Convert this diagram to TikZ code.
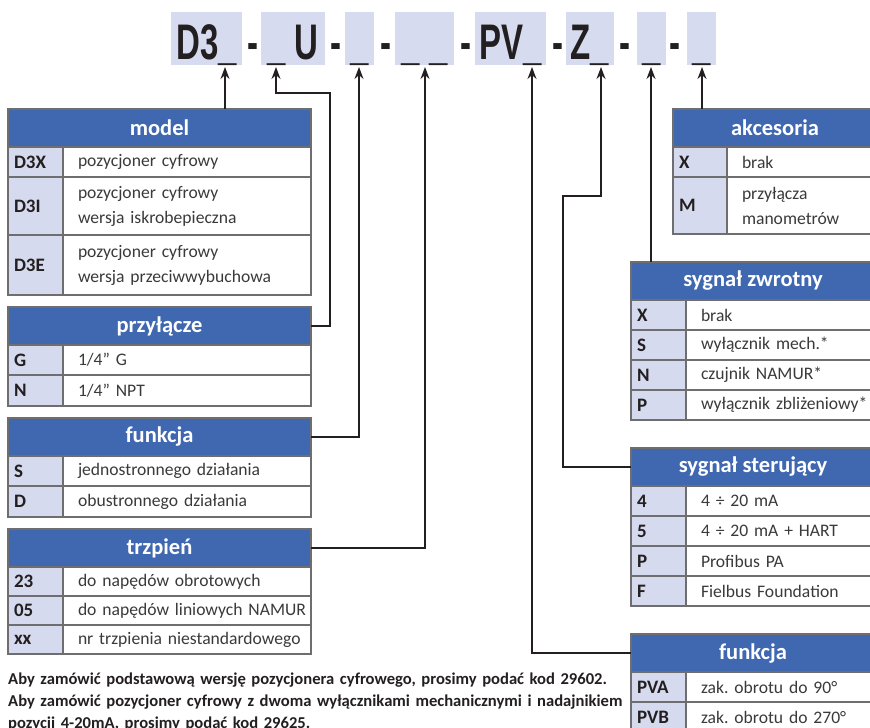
\documentclass[tikz,border=0pt]{standalone}
\usepackage{fontspec}
\setmainfont{Carlito}
\newfontfamily\codefont[FakeStretch=0.66]{Liberation Sans}
\usepackage{xcolor}
\usetikzlibrary{positioning,arrows.meta}

\definecolor{headblue}{RGB}{63,104,177}
\definecolor{keyfill}{RGB}{213,218,238}
\definecolor{codefill}{RGB}{214,219,239}
\definecolor{rulegray}{RGB}{110,110,112}
\definecolor{inkdark}{RGB}{35,31,32}
\definecolor{bodygray}{RGB}{58,58,58}

\frenchspacing
\hyphenpenalty=10000
\exhyphenpenalty=10000

\begin{document}
\begin{tikzpicture}[x=1pt, y=-1pt, >={Stealth[length=12pt, width=9pt]}]
    \tikzstyle{code} = [rectangle, fill=codefill, inner sep=0pt, minimum height=53pt, text height=41pt, text depth=0pt, text=inkdark, font=\codefont\bfseries\fontsize{50}{50}\selectfont]
    \tikzstyle{hyph} = [inner sep=0pt, text height=41pt, text depth=0pt, text=inkdark, font=\codefont\bfseries\fontsize{50}{50}\selectfont]
    \tikzstyle{head} = [rectangle, draw=rulegray, line width=1.2pt, fill=headblue, text=white, inner sep=0pt, outer sep=0pt, minimum height=38pt, anchor=north west, font=\bfseries\fontsize{22.5}{26}\selectfont]
    \tikzstyle{key} = [rectangle, draw=rulegray, line width=1.2pt, fill=keyfill, text=inkdark, inner xsep=6pt, inner ysep=0pt, outer sep=0pt, text width=43pt, align=left, font=\bfseries\fontsize{19}{25}\selectfont]
    \tikzstyle{val} = [rectangle, draw=rulegray, line width=1.2pt, fill=white, text=bodygray, inner xsep=15pt, inner ysep=0pt, outer sep=0pt, text width=218pt, align=left, font=\fontsize{17.6}{25}\selectfont]
    \tikzstyle{valr} = [val, text width=159pt]
    \tikzstyle{conn} = [draw=inkdark, line width=1.3pt]
    \tikzstyle{note} = [inner sep=0pt, anchor=north west, text=inkdark, text width=700pt, align=left, font=\bfseries\fontsize{16.6}{22}\selectfont]

    \useasboundingbox (0,0) rectangle (870,728);
    \clip (0,0) rectangle (870,728);

    % Order code
    \node [code, minimum width=71pt] (c1) at (206.5,38.5) {D3\_};
    \node [hyph] (h1) at (252.5,38.5) {-};
    \node [code, minimum width=64pt] (c2) at (293,38.5) {\_ U};
    \node [hyph] (h2) at (335.5,38.5) {-};
    \node [code, minimum width=29pt] (c3) at (359.5,38.5) {\_};
    \node [hyph] (h3) at (386,38.5) {-};
    \node [code, minimum width=59pt] (c4) at (424.5,38.5) {\_ \_};
    \node [hyph] (h4) at (465.5,38.5) {-};
    \node [code, minimum width=71pt] (c5) at (510.5,38.5) {PV\_};
    \node [hyph] (h5) at (558,38.5) {-};
    \node [code, minimum width=48pt] (c6) at (590,38.5) {Z\_};
    \node [hyph] (h6) at (625,38.5) {-};
    \node [code, minimum width=29pt] (c7) at (651.5,38.5) {\_};
    \node [hyph] (h7) at (675,38.5) {-};
    \node [code, minimum width=29pt] (c8) at (701.5,38.5) {\_};

    \coordinate (tip1) at (225,67);
    \coordinate (tip2) at (276,67);
    \coordinate (tip3) at (359,67);
    \coordinate (tip4) at (425,67);
    \coordinate (tip5) at (532,67);
    \coordinate (tip6) at (601,67);
    \coordinate (tip7) at (651,67);
    \coordinate (tip8) at (702,67);

    % model
    \node [head, minimum width=303pt] (model) at (8,109) {model};
    \node [key, below right=0pt of model.south west, minimum height=30pt] (d3x) {D3X};
    \node [val, right=0pt of d3x, minimum height=30pt] (d3xv) {pozycjoner cyfrowy};
    \node [key, below=0pt of d3x, minimum height=58pt] (d3i) {D3I};
    \node [val, right=0pt of d3i, minimum height=58pt] (d3iv) {pozycjoner cyfrowy\\wersja iskrobepieczna};
    \node [key, below=0pt of d3i, minimum height=60pt] (d3e) {D3E};
    \node [val, right=0pt of d3e, minimum height=60pt] (d3ev) {pozycjoner cyfrowy\\wersja przeciwwybuchowa};

    % przylacze
    \node [head, minimum width=303pt] (przylacze) at (8,307) {przyłącze};
    \node [key, below right=0pt of przylacze.south west, minimum height=30pt] (pg) {G};
    \node [val, right=0pt of pg, minimum height=30pt] (pgv) {1/4” G};
    \node [key, below=0pt of pg, minimum height=31pt] (pn) {N};
    \node [val, right=0pt of pn, minimum height=31pt] (pnv) {1/4” NPT};

    % funkcja
    \node [head, minimum width=303pt] (funkcja) at (8,418) {funkcja};
    \node [key, below right=0pt of funkcja.south west, minimum height=30pt] (fs) {S};
    \node [val, right=0pt of fs, minimum height=30pt] (fsv) {jednostronnego działania};
    \node [key, below=0pt of fs, minimum height=31pt] (fd) {D};
    \node [val, right=0pt of fd, minimum height=31pt] (fdv) {obustronnego działania};

    % trzpien
    \node [head, minimum width=303pt] (trzpien) at (8,529) {trzpień};
    \node [key, below right=0pt of trzpien.south west, minimum height=29pt] (t23) {23};
    \node [val, right=0pt of t23, minimum height=29pt] (t23v) {do napędów obrotowych};
    \node [key, below=0pt of t23, minimum height=29pt] (t05) {05};
    \node [val, right=0pt of t05, minimum height=29pt] (t05v) {do~napędów~liniowych~NAMUR};
    \node [key, below=0pt of t05, minimum height=29pt] (txx) {xx};
    \node [val, right=0pt of txx, minimum height=29pt] (txxv) {nr~trzpienia~niestandardowego};

    % akcesoria
    \node [head, minimum width=204pt] (akcesoria) at (673,109) {akcesoria};
    \node [key, text width=42pt, below right=0pt of akcesoria.south west, minimum height=30pt] (ax) {X};
    \node [valr, text width=120pt, right=0pt of ax, minimum height=30pt] (axv) {brak};
    \node [key, text width=42pt, below=0pt of ax, minimum height=57pt] (am) {M};
    \node [valr, text width=120pt, right=0pt of am, minimum height=57pt] (amv) {przyłącza\\manometrów};

    % sygnal zwrotny
    \node [head, minimum width=244pt] (zwrotny) at (631,262) {sygnał zwrotny};
    \node [key, below right=0pt of zwrotny.south west, minimum height=30pt] (zx) {X};
    \node [valr, right=0pt of zx, minimum height=30pt] (zxv) {brak};
    \node [key, below=0pt of zx, minimum height=30pt] (zs) {S};
    \node [valr, right=0pt of zs, minimum height=30pt] (zsv) {wyłącznik mech.*};
    \node [key, below=0pt of zs, minimum height=30pt] (zn) {N};
    \node [valr, right=0pt of zn, minimum height=30pt] (znv) {czujnik NAMUR*};
    \node [key, below=0pt of zn, minimum height=30pt] (zp) {P};
    \node [valr, right=0pt of zp, minimum height=30pt] (zpv) {wyłącznik~zbliżeniowy*};

    % sygnal sterujacy
    \node [head, minimum width=244pt] (sterujacy) at (631,448) {sygnał sterujący};
    \node [key, below right=0pt of sterujacy.south west, minimum height=30pt] (s4) {4};
    \node [valr, right=0pt of s4, minimum height=30pt] (s4v) {4 ÷ 20 mA};
    \node [key, below=0pt of s4, minimum height=30pt] (s5) {5};
    \node [valr, right=0pt of s5, minimum height=30pt] (s5v) {4 ÷ 20 mA + HART};
    \node [key, below=0pt of s5, minimum height=30pt] (sp) {P};
    \node [valr, right=0pt of sp, minimum height=30pt] (spv) {Profibus PA};
    \node [key, below=0pt of sp, minimum height=30pt] (sf) {F};
    \node [valr, right=0pt of sf, minimum height=30pt] (sfv) {Fielbus Foundation};

    % funkcja PV
    \node [head, minimum width=244pt] (funkcjapv) at (631,634) {funkcja};
    \node [key, below right=0pt of funkcjapv.south west, minimum height=30pt] (pva) {PVA};
    \node [valr, right=0pt of pva, minimum height=30pt] (pvav) {zak. obrotu do 90°};
    \node [key, below=0pt of pva, minimum height=30pt] (pvb) {PVB};
    \node [valr, right=0pt of pvb, minimum height=30pt] (pvbv) {zak. obrotu do 270°};

    % Connections
    \draw [conn, ->] (model.north -| tip1) -- (tip1);
    \draw [conn, ->] (przylacze.east) -| (330,93) -| (tip2);
    \draw [conn, ->] (funkcja.east) -| (tip3);
    \draw [conn, ->] (trzpien.east) -| (tip4);
    \draw [conn, ->] (funkcjapv.west) -| (tip5);
    \draw [conn, ->] (sterujacy.west) -| (563,196) -| (tip6);
    \draw [conn, ->] (zwrotny.north -| tip7) -- (tip7);
    \draw [conn, ->] (akcesoria.north -| tip8) -- (tip8);

    % Ordering note
    \node [note] (info) at (8,673) {Aby zamówić podstawową wersję pozycjonera cyfrowego, prosimy podać kod 29602.\\Aby zamówić pozycjoner cyfrowy z dwoma wyłącznikami mechanicznymi i nadajnikiem\\pozycji 4-20mA, prosimy podać kod 29625.};
\end{tikzpicture}
\end{document}
